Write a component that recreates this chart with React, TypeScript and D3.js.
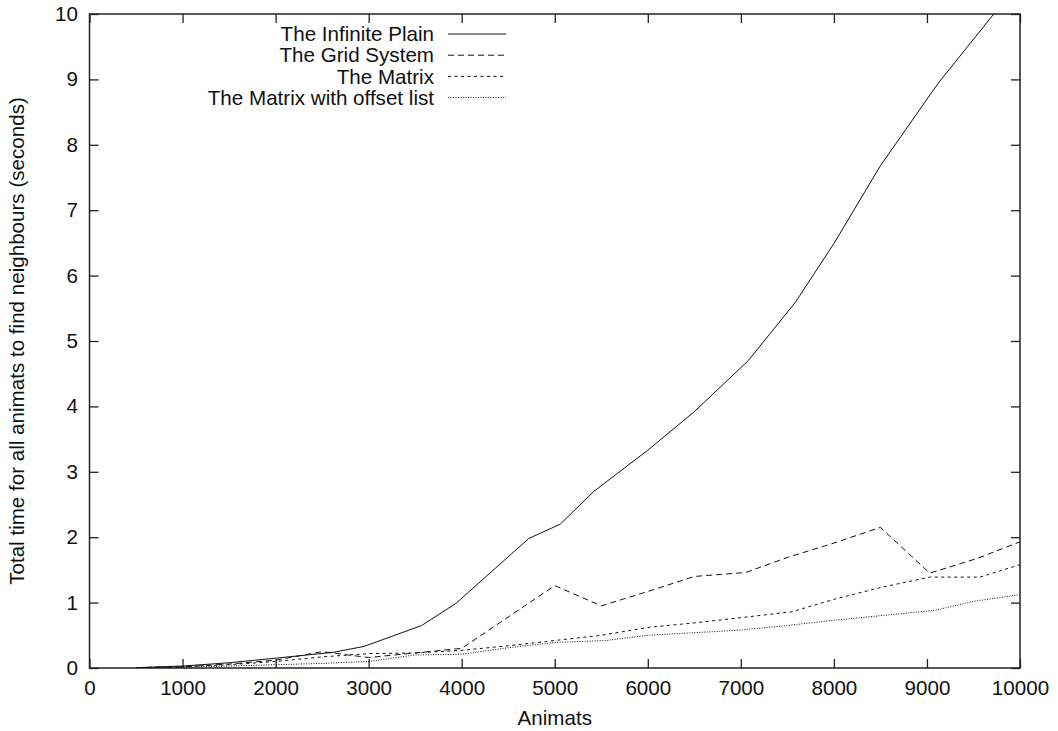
import React, { useEffect, useRef } from 'react';
import * as d3 from 'd3';

// series values: [animats, seconds]
const seriesNames = ['The Infinite Plain', 'The Grid System', 'The Matrix', 'The Matrix with offset list'];

const infinitePlain: [number, number][] = [
  [500, 0.005], [1000, 0.03], [1500, 0.08], [2000, 0.15], [2620, 0.24], [2950, 0.33],
  [3570, 0.65], [3940, 0.99], [4720, 1.98], [5060, 2.2], [5420, 2.7], [6000, 3.33],
  [6500, 3.92], [7080, 4.7], [7590, 5.6], [8000, 6.49], [8500, 7.68], [9120, 8.94], [10000, 10.5]
];
const gridSystem: [number, number][] = [
  [500, 0.005], [1000, 0.02], [1500, 0.06], [2000, 0.12], [2500, 0.25], [3000, 0.16],
  [3500, 0.23], [4000, 0.3], [5000, 1.26], [5500, 0.95], [6000, 1.17], [6500, 1.4],
  [7050, 1.46], [7500, 1.69], [8000, 1.91], [8500, 2.15], [9030, 1.45], [9550, 1.68], [10000, 1.93]
];
const matrix: [number, number][] = [
  [500, 0.005], [1000, 0.02], [1500, 0.05], [2000, 0.1], [2500, 0.17], [3000, 0.22],
  [3500, 0.23], [4000, 0.27], [4500, 0.34], [5000, 0.42], [5500, 0.5], [6000, 0.62],
  [6500, 0.69], [7000, 0.77], [7550, 0.86], [8000, 1.05], [8500, 1.23], [9030, 1.39],
  [9570, 1.39], [10000, 1.58]
];
const matrixOffset: [number, number][] = [
  [500, 0.005], [1000, 0.01], [1500, 0.03], [2000, 0.05], [2500, 0.07], [3000, 0.1],
  [3500, 0.2], [4000, 0.21], [4500, 0.31], [5000, 0.39], [5550, 0.42], [6000, 0.5],
  [6500, 0.54], [7000, 0.58], [7500, 0.65], [8000, 0.73], [8500, 0.8], [9080, 0.88],
  [9500, 1.02], [10000, 1.12]
];

const xTicks = [0, 1000, 2000, 3000, 4000, 5000, 6000, 7000, 8000, 9000, 10000];
const yTicks = [0, 1, 2, 3, 4, 5, 6, 7, 8, 9, 10];

const dashes = ['none', '6,4', '3,3.5', '1,1.5'];
const font = '"Liberation Sans", Arial, Helvetica, sans-serif';
const fontSize = 20.6;

export default function App() {
  const ref = useRef<SVGSVGElement>(null);

  useEffect(() => {
    const svg = d3.select(ref.current);
    svg.selectAll('*').remove();

    const left = 89.5, right = 1020, top = 14, bottom = 668;

    const x = d3.scaleLinear().domain([0, 10000]).range([left, right]);
    const y = d3.scaleLinear().domain([0, 10]).range([bottom, top]);

    svg.append('defs').append('clipPath').attr('id', 'plotclip')
      .append('rect')
      .attr('x', left).attr('y', top)
      .attr('width', right - left).attr('height', bottom - top);

    // axes, ticks pointing inward
    const gx = svg.append('g').attr('transform', `translate(0,${bottom})`)
      .call(d3.axisBottom(x).tickValues(xTicks).tickSize(-9).tickPadding(12).tickFormat(d3.format('d')));
    const gy = svg.append('g').attr('transform', `translate(${left},0)`)
      .call(d3.axisLeft(y).tickValues(yTicks).tickSize(-9).tickPadding(11.5).tickFormat(d3.format('d')));
    const gxt = svg.append('g').attr('transform', `translate(0,${top})`)
      .call(d3.axisTop(x).tickValues(xTicks).tickSize(-9).tickFormat(() => ''));
    const gyr = svg.append('g').attr('transform', `translate(${right},0)`)
      .call(d3.axisRight(y).tickValues(yTicks).tickSize(-9).tickFormat(() => ''));

    [gx, gy, gxt, gyr].forEach(g => {
      g.select('.domain').remove();
      g.selectAll('line').attr('stroke', '#222').attr('stroke-width', 1.3);
      g.selectAll('text').attr('font-family', font).attr('font-size', fontSize).attr('fill', '#111');
    });

    // frame
    svg.append('rect')
      .attr('x', left).attr('y', top)
      .attr('width', right - left).attr('height', bottom - top)
      .attr('fill', 'none').attr('stroke', '#222').attr('stroke-width', 1.5);

    const line = d3.line<[number, number]>()
      .x(d => x(d[0]))
      .y(d => y(d[1]));

    const allSeries = [infinitePlain, gridSystem, matrix, matrixOffset];

    svg.append('g').attr('clip-path', 'url(#plotclip)')
      .selectAll('path')
      .data(allSeries)
      .enter()
      .append('path')
      .attr('d', d => line(d))
      .attr('fill', 'none')
      .attr('stroke', '#111')
      .attr('stroke-width', 1)
      .attr('stroke-dasharray', (d, i) => dashes[i]);

    // legend
    const legend = svg.append('g');
    seriesNames.forEach((name, i) => {
      const ly = 34 + i * 21.2;
      legend.append('text')
        .text(name)
        .attr('x', 434).attr('y', ly)
        .attr('dy', '0.35em')
        .attr('text-anchor', 'end')
        .attr('font-family', font).attr('font-size', fontSize).attr('fill', '#111');
      legend.append('line')
        .attr('x1', 448).attr('x2', 506)
        .attr('y1', ly).attr('y2', ly)
        .attr('stroke', '#111').attr('stroke-width', 1)
        .attr('stroke-dasharray', dashes[i]);
    });

    // axis titles
    svg.append('text')
      .text('Animats')
      .attr('x', (left + right) / 2).attr('y', 725)
      .attr('text-anchor', 'middle')
      .attr('font-family', font).attr('font-size', fontSize).attr('fill', '#111');

    svg.append('text')
      .text('Total time for all animats to find neighbours (seconds)')
      .attr('transform', `translate(24,${(top + bottom) / 2}) rotate(-90)`)
      .attr('text-anchor', 'middle')
      .attr('font-family', font).attr('font-size', fontSize).attr('fill', '#111');
  }, []);

  return (
    <svg ref={ref} width={1058} height={731}
      style={{ position: 'absolute', left: 0, top: 0, background: '#fff' }} />
  );
}
